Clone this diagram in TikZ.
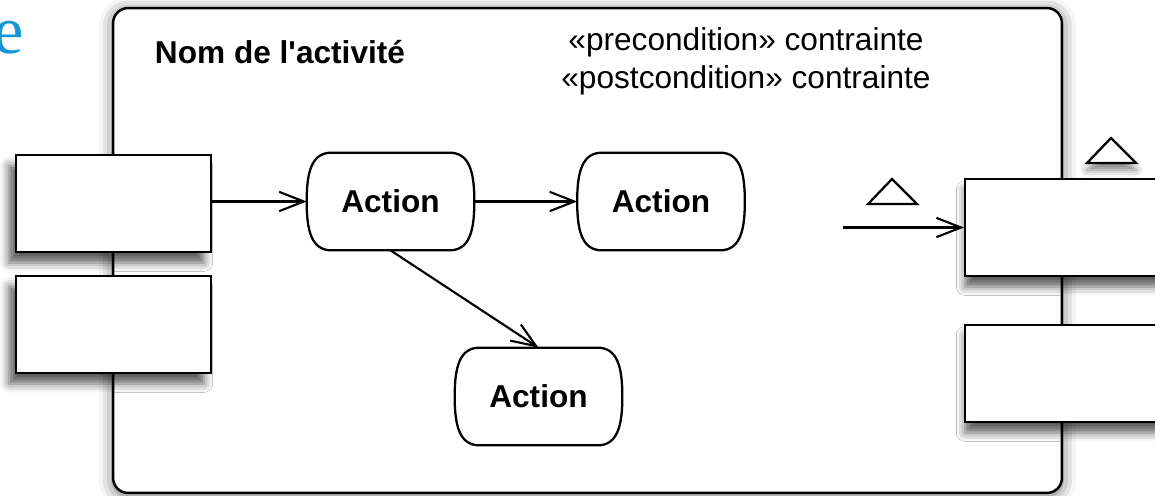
\documentclass[tikz,border=0pt]{standalone}
\usepackage{fontspec}
\setmainfont{Liberation Sans}
\newfontfamily\serifblue{Liberation Serif}
\usetikzlibrary{arrows.meta,shadows.blur}
\definecolor{titleblue}{RGB}{20,150,215}
\tikzset{
  frame/.style={draw, line width=1.4pt, fill=white, rounded corners=0.3cm,
    minimum width=18.98cm, minimum height=9.7cm, inner sep=0pt,
    blur shadow={shadow xshift=0pt, shadow yshift=-1.5pt, shadow blur radius=8pt, shadow opacity=60}},
  pinbox/.style={draw, line width=1.3pt, fill=white, rectangle,
    minimum width=3.9cm, minimum height=1.94cm, inner sep=0pt,
    blur shadow={shadow xshift=-4pt, shadow yshift=-6pt, shadow blur radius=5pt, shadow opacity=65}},
  rpinbox/.style={draw, line width=1.3pt, fill=white, rectangle,
    minimum width=4.8cm, minimum height=1.94cm, inner sep=0pt,
    blur shadow={shadow xshift=0pt, shadow yshift=-6pt, shadow blur radius=5pt, shadow opacity=65}},
  actionbox/.style={draw=none, rectangle, minimum width=3.34cm, minimum height=1.94cm,
    inner sep=0pt, font=\fontsize{18}{22}\selectfont\bfseries},
  actline/.style={line width=1.3pt, fill=white},
  flow/.style={line width=1.2pt, -{Straight Barb[length=14pt,width=11pt,line width=1.2pt]}},
  tri/.style={draw, line width=1.3pt, fill=white},
  lbl/.style={font=\fontsize{18}{22}\selectfont, inner sep=0pt}
}
\newcommand\actoutline[1]{%
  \draw[actline] ([xshift=0.5cm]#1.north west) -- ([xshift=-0.5cm]#1.north east)
    .. controls ([xshift=-0.1cm]#1.north east) and ([yshift=-0.38cm]#1.north east) .. (#1.east)
    .. controls ([yshift=0.38cm]#1.south east) and ([xshift=-0.1cm]#1.south east) .. ([xshift=-0.5cm]#1.south east)
    -- ([xshift=0.5cm]#1.south west)
    .. controls ([xshift=0.1cm]#1.south west) and ([yshift=0.38cm]#1.south west) .. (#1.west)
    .. controls ([yshift=-0.38cm]#1.north west) and ([xshift=0.1cm]#1.north west) .. cycle;}
\begin{document}
\begin{tikzpicture}[x=0.02cm, y=-0.02cm]
\useasboundingbox (0,0) rectangle (1155,495);
% cut-off blue title letter
\node[font=\serifblue\fontsize{39}{44}\selectfont, text=titleblue, anchor=base east, inner sep=0pt] (ttl) at (24,53) {e};
% activity frame
\node[frame] (act) at (587.5,250.5) {};
\node[lbl, font=\fontsize{18}{22}\selectfont\bfseries] (name) at (280,52) {Nom de l\textquotesingle activité};
\node[lbl] (pre) at (746,42) {«precondition» contrainte};
\node[lbl] (post) at (746,80) {«postcondition» contrainte};
% left parameter pins
\node[pinbox] (lb1) at (113.5,203.5) {};
\node[pinbox] (lb2) at (113.5,324.5) {};
% right parameter pins
\node[rpinbox] (rb1) at (1085,227.5) {};
\node[rpinbox] (rb2) at (1085,373.5) {};
% triangles
\draw[tri] (892,179) -- (917,204) -- (868,204) -- cycle;
\draw[tri, blur shadow={shadow xshift=0pt, shadow yshift=-4pt, shadow blur radius=4pt, shadow opacity=50}]
  (1111,138) -- (1136,163) -- (1087,163) -- cycle;
% actions
\node[actionbox] (a1) at (390.5,201.5) {};
\node[actionbox] (a2) at (661,201.5) {};
\node[actionbox] (a3) at (538.5,396.5) {};
\actoutline{a1}
\actoutline{a2}
\actoutline{a3}
\node[actionbox] (t1) at (a1) {Action};
\node[actionbox] (t2) at (a2) {Action};
\node[actionbox] (t3) at (a3) {Action};
% flows
\draw[flow] (lb1.east |- a1.west) -- (a1.west);
\draw[flow] (a1.east) -- (a2.west);
\draw[flow] (a1.south) -- (a3.north);
\coordinate (src) at (843,227.5);
\draw[flow] (src) -- (rb1.west);
\end{tikzpicture}
\end{document}
